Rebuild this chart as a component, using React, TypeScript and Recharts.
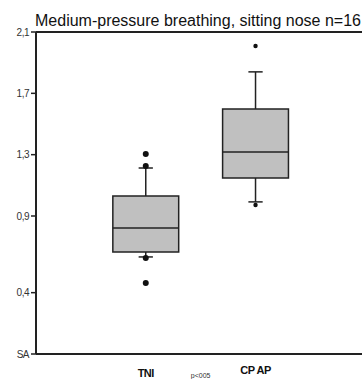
import React from "react";
import {
  ComposedChart,
  XAxis,
  YAxis,
  Scatter,
  ReferenceArea,
  ReferenceLine,
} from "recharts";

const categories = ["TNI", "CPAP"];
const categoryLabels = ["TNI", "CP AP"];
const positions = [2, 4];
const whiskerLow = [0.633, 0.992];
const q1 = [0.665, 1.148];
const median = [0.822, 1.318];
const q3 = [1.031, 1.598];
const whiskerHigh = [1.213, 1.84];

const outlierX = [2, 2, 2, 2, 4, 4];
const outlierY = [1.305, 1.226, 0.626, 0.463, 2.009, 0.972];
const outlierSize = [3, 3, 3, 3, 2.2, 2.2];

const yTicks = [0, 0.4, 0.9, 1.3, 1.7, 2.1];
const yTickLabels = ["SA", "0,4", "0,9", "1,3", "1,7", "2,1"];
const xTicks = [2, 3, 4];
const pLabel = "p<005";
const title = "Medium-pressure breathing, sitting nose n=16";

const outliers = outlierX.map((x, i) => ({ x, y: outlierY[i], r: outlierSize[i] }));

const BOX_HALF = 0.6;
const CAP_HALF = 0.13;
const STROKE = "#222";

const YTick = (props: any) => {
  const { x, y, payload } = props;
  const idx = yTicks.indexOf(payload.value);
  return (
    <text
      x={x}
      y={y}
      dy={3.5}
      textAnchor="end"
      fontSize={10}
      letterSpacing={-0.5}
      fontFamily="Liberation Sans, Arial, sans-serif"
      fill="#333"
    >
      {yTickLabels[idx]}
    </text>
  );
};

const XTick = (props: any) => {
  const { x, payload } = props;
  const v = payload.value;
  if (v === 3) {
    return (
      <text x={x} y={377.5} textAnchor="middle" fontSize={7} fontFamily="Liberation Sans, Arial, sans-serif" fill="#333">
        {pLabel}
      </text>
    );
  }
  const i = positions.indexOf(v);
  return (
    <text
      x={x}
      y={i === 0 ? 377 : 374}
      textAnchor="middle"
      fontSize={11}
      fontWeight="bold"
      letterSpacing={-0.5}
      fontFamily="Liberation Sans Narrow, Liberation Sans, Arial, sans-serif"
      fill="#111"
    >
      {categoryLabels[i]}
    </text>
  );
};

const Dot = (props: any) => {
  const { cx, cy, payload } = props;
  return <circle cx={cx} cy={cy} r={payload.r} fill="#111" />;
};

export default function App() {
  return (
    <div style={{ position: "absolute", left: 0, top: 0, width: 362, height: 379, background: "#fff" }}>
      <div
        style={{
          position: "absolute",
          left: 35,
          top: 12,
          fontFamily: "Liberation Sans, Arial, sans-serif",
          fontSize: 16,
          color: "#111",
          whiteSpace: "nowrap",
          lineHeight: "18px",
        }}
      >
        {title}
      </div>
      <ComposedChart
        width={362}
        height={379}
        margin={{ top: 32, right: 0, left: 0, bottom: 0 }}
        data={outliers}
      >
        <XAxis
          type="number"
          dataKey="x"
          domain={[0, 5.94]}
          ticks={xTicks}
          allowDataOverflow
          height={25}
          axisLine={{ stroke: STROKE, strokeWidth: 2 }}
          tickLine={false}
          tick={<XTick />}
          interval={0}
        />
        <YAxis
          type="number"
          dataKey="y"
          domain={[0, 2.1]}
          ticks={yTicks}
          allowDataOverflow
          width={36}
          axisLine={{ stroke: STROKE, strokeWidth: 2 }}
          tickLine={{ stroke: STROKE, strokeWidth: 1.5 }}
          tickSize={5}
          tick={<YTick />}
          interval={0}
        />
        <ReferenceLine y={2.1} stroke={STROKE} strokeWidth={2} />
        {categories.map((c, i) => (
          <ReferenceLine
            key={c + "wl"}
            segment={[
              { x: positions[i], y: whiskerLow[i] },
              { x: positions[i], y: q1[i] },
            ]}
            stroke={STROKE}
            strokeWidth={1.5}
          />
        ))}
        {categories.map((c, i) => (
          <ReferenceLine
            key={c + "wh"}
            segment={[
              { x: positions[i], y: q3[i] },
              { x: positions[i], y: whiskerHigh[i] },
            ]}
            stroke={STROKE}
            strokeWidth={1.5}
          />
        ))}
        {categories.map((c, i) => (
          <ReferenceLine
            key={c + "cl"}
            segment={[
              { x: positions[i] - CAP_HALF, y: whiskerLow[i] },
              { x: positions[i] + CAP_HALF, y: whiskerLow[i] },
            ]}
            stroke={STROKE}
            strokeWidth={1.5}
          />
        ))}
        {categories.map((c, i) => (
          <ReferenceLine
            key={c + "ch"}
            segment={[
              { x: positions[i] - CAP_HALF, y: whiskerHigh[i] },
              { x: positions[i] + CAP_HALF, y: whiskerHigh[i] },
            ]}
            stroke={STROKE}
            strokeWidth={1.5}
          />
        ))}
        {categories.map((c, i) => (
          <ReferenceArea
            key={c + "box"}
            x1={positions[i] - BOX_HALF}
            x2={positions[i] + BOX_HALF}
            y1={q1[i]}
            y2={q3[i]}
            fill="#c0c0c0"
            fillOpacity={1}
            stroke={STROKE}
            strokeWidth={1.5}
          />
        ))}
        {categories.map((c, i) => (
          <ReferenceLine
            key={c + "med"}
            segment={[
              { x: positions[i] - BOX_HALF, y: median[i] },
              { x: positions[i] + BOX_HALF, y: median[i] },
            ]}
            stroke={STROKE}
            strokeWidth={1.5}
          />
        ))}
        <Scatter data={outliers} dataKey="y" shape={<Dot />} isAnimationActive={false} />
      </ComposedChart>
    </div>
  );
}
